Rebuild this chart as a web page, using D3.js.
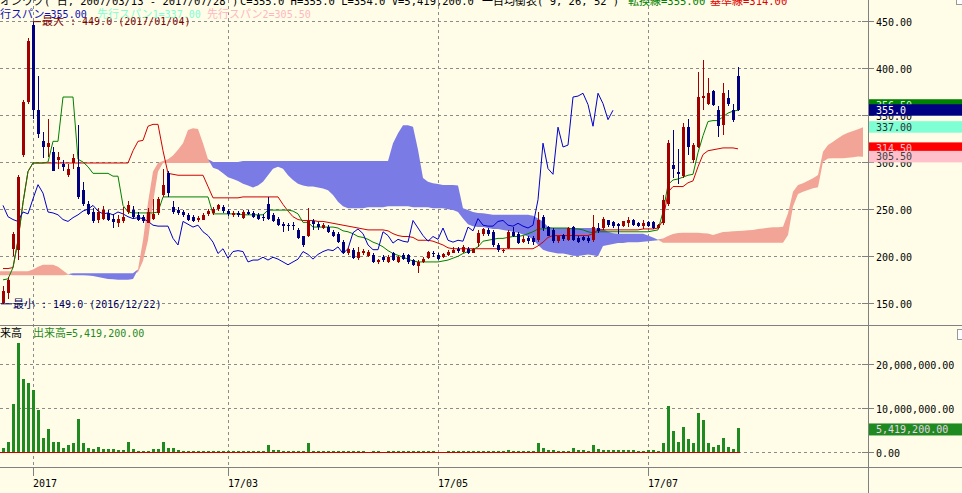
<!DOCTYPE html>
<html>
<head>
<meta charset="utf-8">
<script src="https://cdn.jsdelivr.net/npm/d3@7"></script>
<style>
  body { margin: 0; background: #fffde8; }
  svg { display: block; }
</style>
</head>
<body>
<div id="chart"></div>
<script>
////////////////////////////////////////////////////////////////////////
/////  daily candles + ichimoku + volume                         /////////
////////////////////////////////////////////////////////////////////////

// bar 0 = 2016/12/22 ... bar 147 = 2017/07/28
var openP = [150,161,208,207,307,364,445,355,322,316, 311,302,298,286,299,295,270,256,247,238,
  240,246,240,235,237,247,249,244,242,235, 240,246,265,288,252,249,247,244,242,238,
  239,245,246,250,252,248,244,246,241,247, 246,244,242,256,244,240,234,233,233,228,
  221,221,237,234,230,231,226,224,215,203, 207,198,203,200,201,194,199,194,203,194,
  201,201,196,190,194,198,204,201,199,201, 204,208,205,208,204,214,224,228,226,212,
  206,209,226,224,215,219,219,217,242,231, 228,216,223,217,231,219,220,219,217,230,
  230,238,236,234,232,235,239,235,232,236, 236,230,235,255,297,289,285,337,302,316,
  368,362,375,355,339,368,355,391]
var highP = [168,178,226,286,366,432,449,391,332,346, 316,311,302,298,309,339,279,259,251,251,
  253,249,245,244,252,259,253,247,244,251, 261,263,293,291,259,252,249,246,244,243,
  246,250,252,256,254,250,248,248,249,249, 248,246,245,263,246,242,236,235,236,230,
  222,251,240,236,235,233,228,226,217,210, 209,210,208,207,203,197,201,201,205,200,
  203,202,197,196,199,206,206,203,203,207, 210,210,212,210,209,228,230,230,228,214,
  208,228,231,226,221,222,221,247,244,232, 230,222,224,231,232,222,222,221,244,235,
  242,239,237,235,237,242,240,236,238,237, 237,234,265,323,334,314,341,346,320,396,
  408,389,376,360,384,376,362,401]
var lowP = [149,155,200,196,305,362,346,325,304,305, 290,293,291,284,293,261,253,244,235,235,
  238,237,230,231,235,245,240,237,235,235, 238,244,263,263,245,244,242,237,236,236,
  238,243,244,248,246,243,242,242,240,244, 241,239,237,238,236,232,226,227,228,218,
  210,220,228,228,229,225,220,214,202,201, 197,196,201,199,193,192,194,193,195,193,
  196,192,190,182,193,197,199,196,198,200, 203,204,203,202,203,210,222,222,210,205,
  204,208,220,213,214,213,212,215,227,221, 214,214,216,216,216,214,216,214,215,225,
  228,231,230,224,231,231,232,231,229,231, 229,229,233,253,283,277,283,307,299,315,
  355,361,359,327,329,360,343,354]
var closeP = [163,175,224,284,364,428,355,330,316,320, 291,305,295,293,304,263,256,245,237,247,
  249,239,236,240,242,254,242,239,237,247, 245,261,276,267,247,246,244,239,237,241,
  244,248,250,254,248,245,246,244,247,245, 242,240,241,240,237,233,232,232,232,219,
  212,237,234,231,233,226,222,215,203,208, 198,205,206,205,194,196,196,199,196,199,
  197,194,191,194,197,205,202,197,202,205, 207,206,210,203,208,225,229,224,212,207,
  207,226,222,214,218,216,215,238,230,222, 216,221,218,230,217,215,217,216,231,227,
  240,233,232,232,237,238,233,232,235,232, 230,233,260,320,293,287,337,316,318,369,
  370,373,361,338,373,362,345,355]
// volume, millions of shares
var volume = [1.05,2.3,11,24.9,16.7,15.8,14.2,9.6,3.25,5.3, 2.35,2.35,1.0,1.7,2.1,7.6,2.1,1.0,0.75,1.3,
  0.85,0.8,0.8,0.6,0.6,2.35,0.85,0.4,0.4,0.4, 0.85,0.85,2.35,1.0,1.0,0.6,0.35,0.35,0.3,0.3,
  0.3,0.3,0.3,0.3,0.3,0.3,0.3,0.3,0.3,0.35, 0.3,0.3,0.3,1.65,0.6,0.5,0.35,0.3,0.3,0.3,
  0.3,2.1,0.35,0.3,0.3,0.3,0.3,0.3,0.3,0.3, 0.3,0.3,0.25,0.1,0.3,0.3,0.1,0.3,0.3,0.3,
  0.3,0.3,0.3,0.3,0.3,0.3,0.3,0.1,0.1,0.3, 0.3,0.35,0.3,0.3,0.3,0.3,0.3,0.25,0.3,0.3,
  0.3,0.45,0.4,0.3,0.3,0.3,0.35,2.1,1.05,0.6, 0.6,0.4,0.35,0.4,1.0,0.6,0.6,0.4,1.65,0.85,
  0.5,0.5,0.5,0.5,0.5,0.5,0.5,0.35,0.35,0.5, 0.5,0.35,2.1,10.5,4.8,2.35,5.75,3.0,2.1,8.9,
  7.3,2.1,1.3,1.65,3.25,1.3,0.85,5.42]

// 転換線 (9) and 基準線 (26), one value per bar
var tenkan = [175,176,188,217,257,290,299,299,299,300, 322,322,369,369,369,303,300,295,288,288,
  288,288,285,285,254,247,246,246,246,246, 246,247,263,263,263,263,263,263,263,263,
  263,263,245,245,245,245,245,245,244,244, 244,244,244,249,249,249,249,249,248,245,
  236,236,231,231,231,231,231,230,227,226, 224,221,220,218,215,213,210,206,203,201,
  199,197,195,194,194,194,194,194,195,196, 198,200,203,205,207,210,216,217,218,219,
  219,220,221,221,222,224,226,229,229,230, 230,230,230,230,229,229,228,226,225,226,
  226,226,226,226,226,226,226,226,226,226, 227,228,247,276,281,282,284,286,287,310,
  328,343,344,344,348,352,354,355]
var kijun = [187,187,188,217,257,290,299,299,299,299, 299,299,299,299,299,299,299,299,299,299,
  299,299,299,299,299,299,312,322,323,338, 340,340,312,288,287,286,286,286,286,286,
  286,274,262,262,262,262,262,262,263,263, 263,263,263,263,263,263,255,248,242,239,
  238,238,238,237,237,236,235,234,233,232, 231,230,229,228,228,228,228,227,224,222,
  221,221,220,217,217,217,216,214,212,209, 208,208,208,208,208,208,208,208,208,208,
  208,208,208,208,208,208,208,211,215,220, 222,222,222,222,222,222,222,222,224,228,
  228,228,228,228,228,228,228,228,229,229, 229,230,238,268,274,274,274,278,280,295,
  308,312,313,314,315,315,315,314]

// 先行スパン1 / 先行スパン2, from bar -1 to bar 172 (drawn 25 bars ahead)
var spanA = [184, 184,184,184,184,184,184,186,189,191,191, 191,189,185,181,180,180,180,179.5,179,178,
  177,176,175.5,175,175,175,176,186,217,257, 290,299,301,303,307,313,320,334,336,335,
  320,303,294,292,288,284,282,280,277,275, 273,275,279,286,293,295,293,286,281,277,
  275,274,274,273,272,270,265,258,253,251, 251,251,251,252,252,252,252,253,253,253,
  253,253,252,252,252,252,251,251,251,250, 249,247,240,234,232,231,231,230,229,229,
  228,227,226,225,223,221,218,212,207,205, 204,203,203,202,200.5,200.3,201,202,201,200,
  211,212,213,214,214,215,215,215,215.5,216, 216.5,217,219,221.5,223.6,224.7,225,225,225,225,
  224.5,224.3,222.6,224.3,225.8,226.1,226.5,226.8,227.2,227.5, 227.9,229,229.6,230.4,230.7,230.7,231.4,245.6,268.6,275.6,
  277.4,280.2,282.7,286.2,311,318.1,321.6,325.2,328.7,331.2, 332.9,334.7,337]
var spanB = [180, 180,180,180,180,180,180,180,180,180,180, 180,180,180,180.5,182,182,182,182,182,182,
  182,182,182,182,182,182,182,183,195,217, 257,290,299,299,299,299,299,299,299,299,
  299,299,300,300,300,300,300,300,301,301, 301,301,301,301,301,301,301,301,301,301,
  301,301,301,301,301,301,301,301,301,301, 301,301,301,301,301,301,301,301,320,330.5,
  339,339,337.5,313,283,279,277.4,276.7,275.6,275.6, 275.6,275,251,249,247,246,245.6,245,244,244,
  244,244,244,244,244,244,243,240,237,231, 230,230,230,230,230,230,230,230,230,229.5,
  229,226,224.4,224,224,224,224,224,224,222, 220,217.5,214.4,214.4,214.4,214.4,214.4,214.4,214.4,214.4,
  214.4,214.4,214.4,214.4,214.4,214.4,214.4,214.4,214.4,214.4, 214.4,214.4,214.4,214.4,214.4,214.4,214.4,222.6,252.7,266.1,
  268.6,270.3,272.1,273.2,300.4,303.9,304,304,304,304.6, 305,306,305.5]
var spanStart = -1
var lag = 25

var priceTicks = [150, 200, 250, 300, 350, 400, 450]
var volTicks = [0, 10, 20]
var volTickText = ['0.00', '10,000,000.00', '20,000,000.00']
var dateBars = [6, 45, 87, 129]
var dateText = ['2017', '17/03', '17/05', '17/07']

// current value tags on the right axis
var tagValue = [356.5, 355.0, 337.0, 314.5, 305.5]
var tagText = ['356.50', '355.0', '337.00', '314.50', '305.50']
var tagFill = ['#008000', '#000080', '#7fffd4', '#ff0000', '#ffc0cb']
var tagInk = ['#d0ffd0', '#ffffff', '#303030', '#ffc0cb', '#404040']

var W = 962, H = 493
var MONO = '"DejaVu Sans Mono", "Liberation Mono", monospace'
var CJK = '"Noto Sans CJK JP", sans-serif'
var AXIS_X = 868
var UP = '#a00000', DOWN = '#000080'

var x = d3.scaleLinear().domain([0, 147]).range([3, 738])
var y = d3.scaleLinear().domain([150, 450]).range([303.4, 20.7])
var yv = d3.scaleLinear().domain([0, 20]).range([452.3, 364.3])

var svg = d3.select('#chart').append('svg')
    .attr('width', W)
    .attr('height', H)

svg.append('rect').attr('width', W).attr('height', H).attr('fill', '#fffde8')

svg.append('clipPath').attr('id', 'pclip')
  .append('rect').attr('x', 0).attr('y', 0).attr('width', AXIS_X).attr('height', 325)

// text with half width ascii in mono and full width kana/kanji in CJK font
var mixedText = function(g, str, px, py, color, fs) {
  var re = /([\u3000-\u30ff\u3400-\u9fff\uff00-\uffef]+)/
  var t = g.append('text').attr('x', px).attr('y', py).attr('fill', color)
    .style('white-space', 'pre')
  str.split(re).forEach(function(s) {
    if (!s) return
    var cjk = re.test(s)
    t.append('tspan').text(s)
      .attr('font-family', cjk ? CJK : MONO)
      .attr('font-size', cjk ? 11 : (fs || 10))
  })
  return t
}

// grid
var grid = svg.append('g')
    .attr('stroke', '#8c8c8c')
    .attr('stroke-dasharray', '3,3')
    .attr('shape-rendering', 'crispEdges')
grid.selectAll('.hp').data(priceTicks).enter().append('line')
    .attr('x1', 0).attr('x2', AXIS_X - 6)
    .attr('y1', function(d) { return Math.round(y(d)) + 0.5 })
    .attr('y2', function(d) { return Math.round(y(d)) + 0.5 })
grid.selectAll('.hv').data(volTicks).enter().append('line')
    .attr('x1', 0).attr('x2', AXIS_X - 6)
    .attr('y1', function(d) { return Math.round(yv(d)) + 0.5 })
    .attr('y2', function(d) { return Math.round(yv(d)) + 0.5 })
grid.selectAll('.vx').data(dateBars).enter().append('line')
    .attr('x1', function(d) { return x(d) + 0.5 })
    .attr('x2', function(d) { return x(d) + 0.5 })
    .attr('y1', 0).attr('y2', 467)

var price = svg.append('g').attr('clip-path', 'url(#pclip)')

// cloud
var cloudIdx = d3.range(spanA.length)
var xs = function(k) { return x(k + spanStart) }
price.append('path')
    .datum(cloudIdx)
    .attr('fill', '#f2a496')
    .attr('d', d3.area()
      .x(xs)
      .y0(function(k) { return y(spanB[k]) })
      .y1(function(k) { return y(Math.max(spanA[k], spanB[k])) }))
price.append('path')
    .datum(cloudIdx)
    .attr('fill', '#7b7be6')
    .attr('d', d3.area()
      .x(xs)
      .y0(function(k) { return y(spanA[k]) })
      .y1(function(k) { return y(Math.max(spanA[k], spanB[k])) }))

// lines
var lineOf = function(arr) {
  return d3.line().x(function(d, i) { return x(i) }).y(function(d) { return y(d) })(arr)
}
price.append('path').attr('d', lineOf(kijun)).attr('fill', 'none').attr('stroke', '#d00000').attr('stroke-width', 1)
price.append('path').attr('d', lineOf(tenkan)).attr('fill', 'none').attr('stroke', '#008000').attr('stroke-width', 1)
// 遅行スパン: close drawn lag bars back
price.append('path').attr('d', lineOf(closeP.slice(lag))).attr('fill', 'none').attr('stroke', '#0000cc').attr('stroke-width', 1)

// candles
var candles = price.selectAll('.c').data(closeP).enter().append('g')
    .attr('shape-rendering', 'crispEdges')
candles.append('line')
    .attr('x1', function(d, i) { return x(i) + 0.5 })
    .attr('x2', function(d, i) { return x(i) + 0.5 })
    .attr('y1', function(d, i) { return y(highP[i]) })
    .attr('y2', function(d, i) { return y(lowP[i]) })
    .attr('stroke', function(d, i) { return d >= openP[i] ? UP : DOWN })
candles.append('rect')
    .attr('x', function(d, i) { return x(i) - 1 })
    .attr('width', 3)
    .attr('y', function(d, i) { return y(Math.max(d, openP[i])) })
    .attr('height', function(d, i) { return Math.max(1, Math.abs(y(d) - y(openP[i]))) })
    .attr('fill', function(d, i) { return d >= openP[i] ? UP : DOWN })

// volume
svg.append('g').selectAll('rect').data(volume).enter().append('rect')
    .attr('shape-rendering', 'crispEdges')
    .attr('x', function(d, i) { return x(i) - 1 })
    .attr('width', 3)
    .attr('y', function(d) { return yv(d) })
    .attr('height', function(d) { return yv(0) - yv(d) })
    .attr('fill', '#1f8a1f')
svg.append('line')
    .attr('x1', 0).attr('x2', x(volume.length - 1) + 2)
    .attr('y1', Math.round(yv(0)) + 0.5).attr('y2', Math.round(yv(0)) + 0.5)
    .attr('stroke', '#d00000')

// max / min markers
var iMax = d3.maxIndex(highP), iMin = d3.minIndex(lowP)
svg.append('line').attr('x1', x(iMax)).attr('x2', x(iMax) + 8)
    .attr('y1', y(highP[iMax])).attr('y2', y(highP[iMax])).attr('stroke', '#800000')
mixedText(svg, '最大 : 449.0 (2017/01/04)', x(iMax) + 9, 24.5, '#800000')
svg.append('line').attr('x1', 1).attr('x2', 12)
    .attr('y1', y(lowP[iMin]) - 0.5).attr('y2', y(lowP[iMin]) - 0.5).attr('stroke', '#000060')
mixedText(svg, '最小 : 149.0 (2016/12/22)', 13, y(lowP[iMin]) + 3.5, '#000060')

// headers
mixedText(svg, 'オンワク( 日, 2007/03/13 - 2017/07/28 )', 0, 4.5, '#000', 10.5)
mixedText(svg, 'C=355.0 H=355.0 L=354.0 V=5,419,200.0', 240, 4.5, '#000', 10.5)
mixedText(svg, '一目均衡表( 9, 26, 52 )', 482, 4.5, '#000', 10.5)
mixedText(svg, '転換線=355.00', 628, 4.5, '#008000', 10.5)
mixedText(svg, '基準線=314.00', 710, 4.5, '#e00000', 10.5)
mixedText(svg, '遅行スパン=355.00', -11, 18, '#1010b0')
mixedText(svg, '先行スパン1=337.00', 97, 18, '#7fffd4')
mixedText(svg, '先行スパン2=305.50', 207, 18, '#ffb6c1')
mixedText(svg, '出来高', -11, 337, '#000')
mixedText(svg, '出来高=5,419,200.00', 33, 337, '#1f8a1f')

// frame lines
var frame = svg.append('g').attr('stroke', '#808080').attr('shape-rendering', 'crispEdges')
frame.append('line').attr('x1', AXIS_X + 0.5).attr('x2', AXIS_X + 0.5).attr('y1', 0).attr('y2', H)
frame.append('line').attr('x1', 0).attr('x2', W).attr('y1', 325.5).attr('y2', 325.5)
frame.append('line').attr('x1', 0).attr('x2', W).attr('y1', 467.5).attr('y2', 467.5)

// right axis ticks and labels
var ax = svg.append('g')
priceTicks.forEach(function(t) {
  var yy = Math.round(y(t)) + 0.5
  ax.append('line').attr('x1', AXIS_X - 6).attr('x2', AXIS_X + 6).attr('y1', yy).attr('y2', yy)
    .attr('stroke', '#808080').attr('shape-rendering', 'crispEdges')
  ax.append('text').attr('x', AXIS_X + 8).attr('y', yy + 4)
    .attr('font-family', MONO).attr('font-size', 10).attr('fill', '#000').text(t.toFixed(2))
})
volTicks.forEach(function(t, k) {
  var yy = Math.round(yv(t)) + 0.5
  ax.append('line').attr('x1', AXIS_X - 6).attr('x2', AXIS_X + 6).attr('y1', yy).attr('y2', yy)
    .attr('stroke', '#808080').attr('shape-rendering', 'crispEdges')
  ax.append('text').attr('x', AXIS_X + 8).attr('y', yy + 4)
    .attr('font-family', MONO).attr('font-size', 10).attr('fill', '#000').text(volTickText[k])
})
dateBars.forEach(function(b, k) {
  ax.append('line').attr('x1', x(b) + 0.5).attr('x2', x(b) + 0.5).attr('y1', 467).attr('y2', 476)
    .attr('stroke', '#808080').attr('shape-rendering', 'crispEdges')
  ax.append('text').attr('x', x(b)).attr('y', 487)
    .attr('font-family', MONO).attr('font-size', 10).attr('fill', '#000').text(dateText[k])
})

// value tags, lower tags pushed under upper ones
var tops = tagValue.map(function(v) { return y(v) - 6 })
for (var k = tops.length - 2; k >= 0; k--) {
  tops[k] = Math.min(tops[k], tops[k + 1] - 5)
}
tagValue.forEach(function(v, k) {
  ax.append('rect').attr('x', AXIS_X + 1).attr('y', tops[k]).attr('width', W - AXIS_X).attr('height', 11.5)
    .attr('fill', tagFill[k])
  ax.append('text').attr('x', AXIS_X + 8).attr('y', tops[k] + 9.5)
    .attr('font-family', MONO).attr('font-size', 10).attr('fill', tagInk[k]).text(tagText[k])
})
var vLast = volume[volume.length - 1]
ax.append('rect').attr('x', AXIS_X + 1).attr('y', yv(vLast) - 5).attr('width', W - AXIS_X).attr('height', 12)
    .attr('fill', '#1f8a1f')
ax.append('text').attr('x', AXIS_X + 8).attr('y', yv(vLast) + 4.5)
    .attr('font-family', MONO).attr('font-size', 10).attr('fill', '#f0d0f0').text('5,419,200.00')

// little corner boxes
ax.append('rect').attr('x', 956.5).attr('y', -3.5).attr('width', 8).attr('height', 8)
    .attr('fill', '#fff').attr('stroke', '#999')
ax.append('rect').attr('x', 957.5).attr('y', 329.5).attr('width', 7).attr('height', 10)
    .attr('fill', '#fff').attr('stroke', '#999')
</script>
</body>
</html>
